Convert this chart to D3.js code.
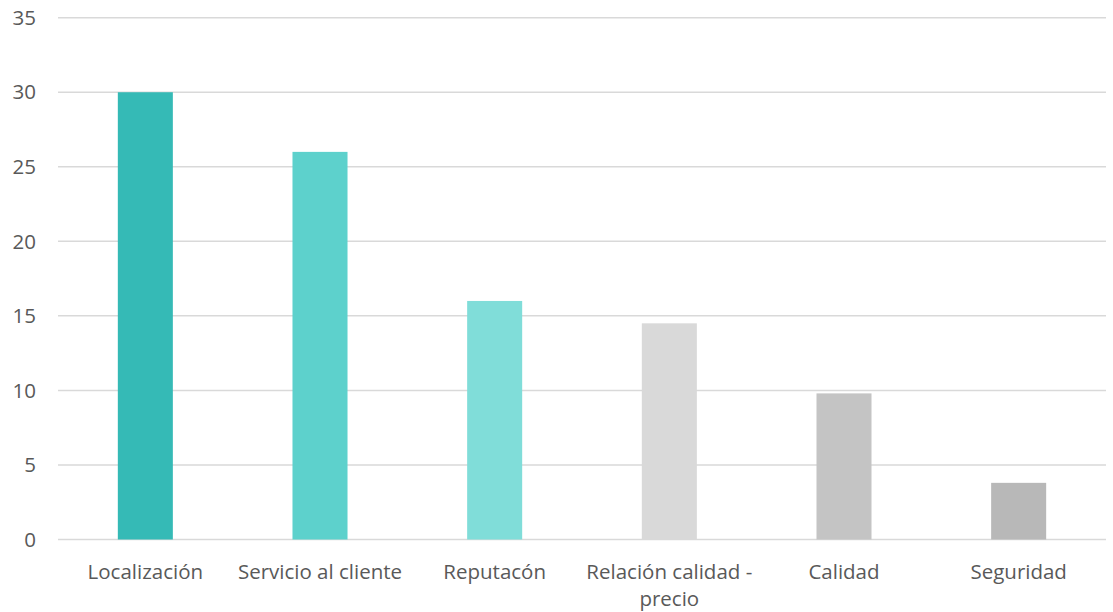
<!DOCTYPE html>
<html><head><meta charset="utf-8">
<script src="https://cdn.jsdelivr.net/npm/d3@7"></script>
<style>body{margin:0;background:#fff}svg{display:block}</style>
</head><body>
<svg id="c" width="1113" height="612"></svg>
<script>
const categories = ["Localización","Servicio al cliente","Reputacón","Relación calidad - precio","Calidad","Seguridad"];
const values = [30, 26, 16, 14.5, 9.8, 3.8];
const colors = ["#35BAB6","#5DD1CC","#80DDD9","#D9D9D9","#C4C4C4","#B8B8B8"];
const yTicks = [0,5,10,15,20,25,30,35];

const svg = d3.select("#c");
const mLeft = 58, mRight = 1106, mTop = 17.7, mBottom = 539.5;
const x = d3.scaleBand().domain(categories).range([mLeft, mRight]).paddingInner(0.685).paddingOuter(0.3425);
const y = d3.scaleLinear().domain([0,35]).range([mBottom, mTop]);
const font = "'Open Sans', sans-serif";
const fs = 20.5;

svg.append("g").selectAll("line").data(yTicks).join("line")
  .attr("x1", mLeft).attr("x2", mRight)
  .attr("y1", d => y(d)).attr("y2", d => y(d))
  .attr("stroke", "#D9D9D9").attr("stroke-width", 1.5);

svg.append("g").selectAll("text").data(yTicks).join("text")
  .attr("x", 36).attr("y", d => y(d)).attr("dy", "0.35em")
  .attr("text-anchor", "end").attr("font-family", font).attr("font-size", fs)
  .attr("fill", "#595959").text(d => d);

svg.append("g").selectAll("rect").data(categories).join("rect")
  .attr("x", d => x(d)).attr("width", x.bandwidth())
  .attr("y", (d,i) => y(values[i])).attr("height", (d,i) => y(0) - y(values[i]))
  .attr("fill", (d,i) => colors[i]);

const lines = {"Relación calidad - precio": ["Relación calidad -","precio"]};
const lab = svg.append("g");
categories.forEach(c => {
  const parts = lines[c] || [c];
  const t = lab.append("text").attr("text-anchor","middle").attr("font-family", font)
    .attr("font-size", fs).attr("fill", "#595959");
  parts.forEach((p,i) => t.append("tspan").attr("x", x(c) + x.bandwidth()/2).attr("y", 578.5 + i*27.5).text(p));
});
</script>
</body></html>
